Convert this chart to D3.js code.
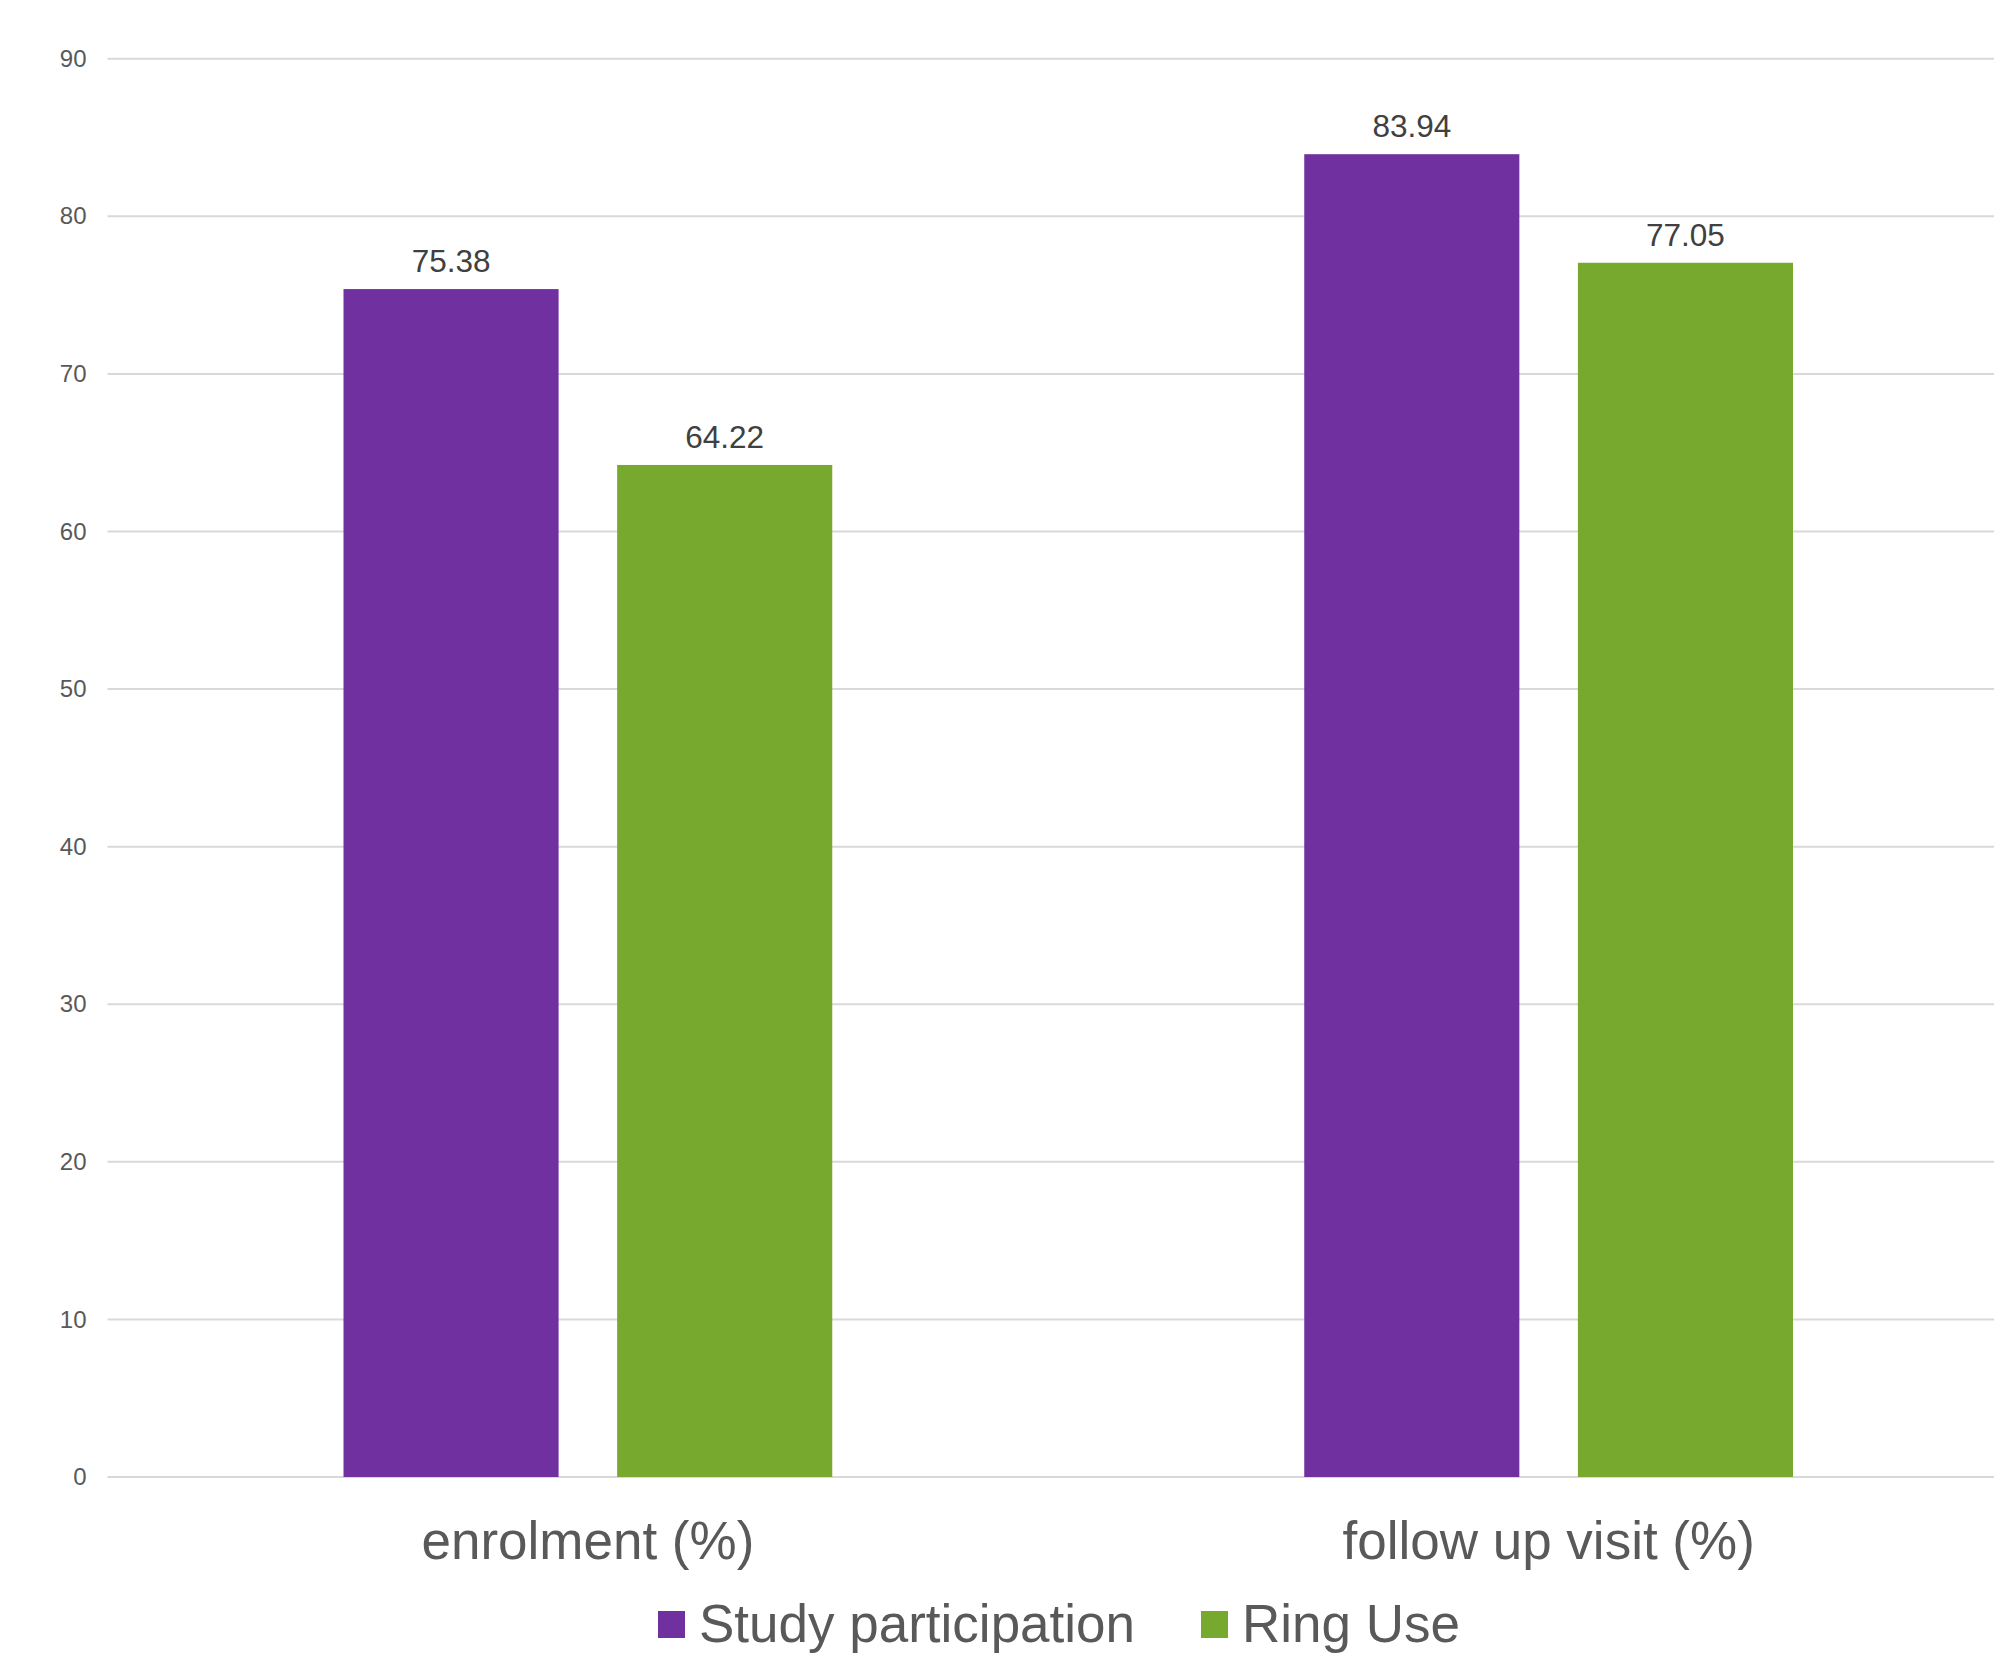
<!DOCTYPE html>
<html>
<head>
<meta charset="utf-8">
<script src="https://cdn.jsdelivr.net/npm/d3@7"></script>
<style>
  html, body { margin: 0; padding: 0; background: #ffffff; }
  svg { display: block; font-family: "Liberation Sans", Arial, sans-serif; }
</style>
</head>
<body>
<svg id="chart" width="1994" height="1661"></svg>
<script>
// Data
const categories = ["enrolment (%)", "follow up visit (%)"];
const seriesNames = ["Study participation", "Ring Use"];
const studyParticipation = [75.38, 83.94];
const ringUse = [64.22, 77.05];
const yTicks = [0, 10, 20, 30, 40, 50, 60, 70, 80, 90];
const colors = ["#7030A0", "#77A92F"];

const seriesValues = [studyParticipation, ringUse];

const svg = d3.select("#chart");
const W = 1994;

// Plot area (the category band continues a little past the right edge)
const plotLeft = 107.5, plotRight = 2029, plotTop = 58.7, plotBottom = 1477;

const y = d3.scaleLinear().domain([0, 90]).range([plotBottom, plotTop]);
const x0 = d3.scaleBand().domain(categories).range([plotLeft, plotRight]).padding(0);
const groupInset = 236;
const x1 = d3.scaleBand().domain(seriesNames)
  .range([groupInset, x0.bandwidth() - groupInset])
  .paddingInner(0.214).paddingOuter(0);

// Horizontal gridlines
svg.append("g").selectAll("line").data(yTicks).join("line")
  .attr("x1", plotLeft).attr("x2", W)
  .attr("y1", d => y(d)).attr("y2", d => y(d))
  .attr("stroke", "#d9d9d9").attr("stroke-width", 2);

// Y axis labels
const yAxis = d3.axisLeft(y).tickValues(yTicks).tickSize(0).tickPadding(21);
const gy = svg.append("g").attr("transform", `translate(${plotLeft},0)`).call(yAxis);
gy.select(".domain").remove();
gy.selectAll("text")
  .attr("font-size", 24)
  .attr("font-family", "Liberation Sans, Arial, sans-serif")
  .attr("fill", "#595959");

// Bars
const groups = svg.append("g").selectAll("g").data(categories).join("g")
  .attr("transform", d => `translate(${x0(d)},0)`);

groups.selectAll("rect")
  .data((c, i) => seriesNames.map((s, j) => ({ s, j, v: seriesValues[j][i] })))
  .join("rect")
  .attr("x", d => x1(d.s))
  .attr("width", x1.bandwidth())
  .attr("y", d => y(d.v))
  .attr("height", d => y(0) - y(d.v))
  .attr("fill", d => colors[d.j]);

// Value labels
groups.selectAll("text.value")
  .data((c, i) => seriesNames.map((s, j) => ({ s, j, v: seriesValues[j][i] })))
  .join("text")
  .attr("class", "value")
  .attr("x", d => x1(d.s) + x1.bandwidth() / 2)
  .attr("y", d => y(d.v) - 17)
  .attr("text-anchor", "middle")
  .attr("font-size", 31.5)
  .attr("fill", "#404040")
  .text(d => d.v.toFixed(2));

// Category labels
svg.append("g").selectAll("text").data(categories).join("text")
  .attr("x", d => x0(d) + x0.bandwidth() / 2)
  .attr("y", 1559)
  .attr("text-anchor", "middle")
  .attr("font-size", 53)
  .attr("fill", "#595959")
  .text(d => d);

// Legend
const legendItems = [
  { name: seriesNames[0], color: colors[0], x: 658 },
  { name: seriesNames[1], color: colors[1], x: 1201 }
];
const lg = svg.append("g").selectAll("g").data(legendItems).join("g")
  .attr("transform", d => `translate(${d.x},0)`);
lg.append("rect")
  .attr("x", 0).attr("y", 1611)
  .attr("width", 27).attr("height", 27)
  .attr("fill", d => d.color);
lg.append("text")
  .attr("x", 41).attr("y", 1642)
  .attr("font-size", 53)
  .attr("fill", "#595959")
  .text(d => d.name);
</script>
</body>
</html>
